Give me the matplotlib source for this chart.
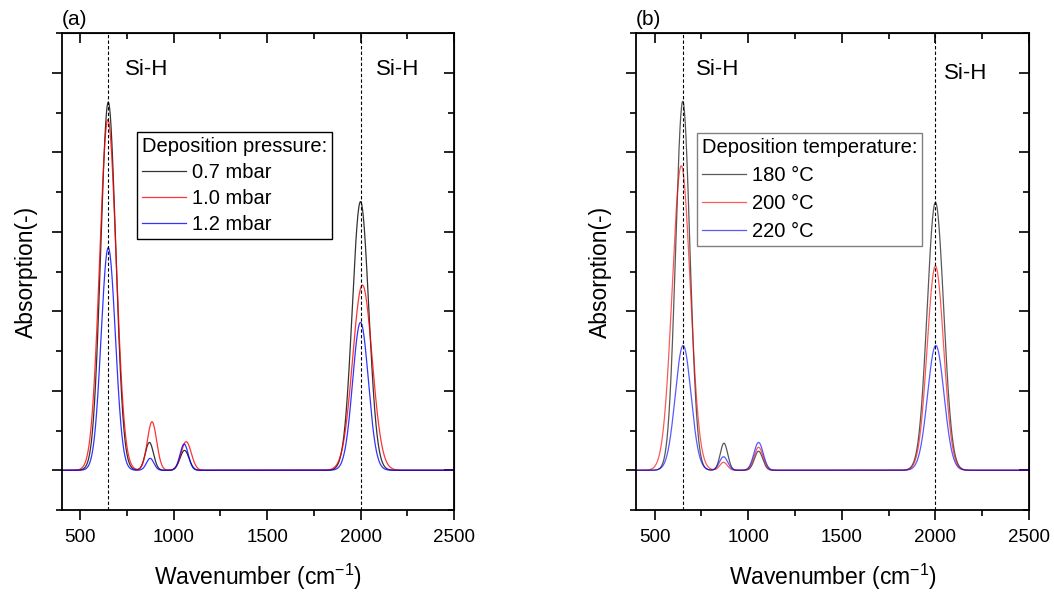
import numpy as np
import matplotlib
matplotlib.use("Agg")
import matplotlib.pyplot as plt
from matplotlib.ticker import MultipleLocator

plt.rcParams['font.family'] = ['Liberation Sans', 'DejaVu Sans']
plt.rcParams['mathtext.fontset'] = 'custom'
plt.rcParams['mathtext.rm'] = 'Liberation Sans'

# peak parameters: (centre, height, sigma) per band
pressure_labels = ['0.7 mbar', '1.0 mbar', '1.2 mbar']
pressure_peaks = [
    [(650, 4.63, 40), (870, 0.35, 22), (1058, 0.25, 24), (2000, 3.38, 44)],
    [(648, 4.41, 44), (884, 0.61, 25), (1067, 0.36, 27), (2010, 2.33, 52)],
    [(650, 2.80, 38), (874, 0.15, 20), (1056, 0.33, 22), (2000, 1.86, 42)],
]

temp_labels = ['180 \u00b0C', '200 \u00b0C', '220 \u00b0C']
temp_peaks = [
    [(650, 4.64, 38), (870, 0.34, 20), (1055, 0.24, 22), (2000, 3.37, 44)],
    [(642, 3.83, 48), (868, 0.10, 20), (1055, 0.29, 24), (2000, 2.57, 44)],
    [(652, 1.57, 42), (868, 0.17, 22), (1055, 0.35, 25), (2002, 1.57, 44)],
]

colors = ['black', 'red', 'blue']
markers_x = [650, 2000]
wn = np.linspace(400, 2500, 2101)


def spectrum(peaks):
    y = np.zeros_like(wn)
    for c, h, s in peaks:
        y += h * np.exp(-0.5 * ((wn - c) / s) ** 2)
    return y


def draw_panel(ax, peaks, labels, title, letter, legend_pos, leg_edge, si_pos,
               alpha, spacing):
    for pk, lab, col in zip(peaks, labels, colors):
        ax.plot(wn, spectrum(pk), color=col, lw=0.9, alpha=alpha, label=lab)
    for xm in markers_x:
        ax.axvline(xm, color='black', ls='--', lw=0.8, dashes=(3, 2))
    ax.set_xlim(400, 2500)
    ax.set_ylim(-0.5, 5.5)
    ax.xaxis.set_major_locator(MultipleLocator(500))
    ax.xaxis.set_minor_locator(MultipleLocator(250))
    ax.yaxis.set_major_locator(MultipleLocator(1))
    ax.yaxis.set_minor_locator(MultipleLocator(0.5))
    ax.set_yticklabels([])
    ax.tick_params(which='both', direction='out', width=1.2, labelsize=13.5)
    ax.tick_params(which='major', length=7, pad=7)
    ax.tick_params(which='minor', length=4)
    for sp in ax.spines.values():
        sp.set_linewidth(1.3)

    top = ax.secondary_xaxis('top')
    top.xaxis.set_major_locator(MultipleLocator(500))
    top.xaxis.set_minor_locator(MultipleLocator(250))
    top.tick_params(which='both', direction='in', width=1.2, labeltop=False)
    top.tick_params(which='major', length=7)
    top.tick_params(which='minor', length=4)
    right = ax.secondary_yaxis('right')
    right.yaxis.set_major_locator(MultipleLocator(1))
    right.yaxis.set_minor_locator(MultipleLocator(0.5))
    right.tick_params(which='both', direction='in', width=1.2, labelright=False)
    right.tick_params(which='major', length=7)
    right.tick_params(which='minor', length=4)

    ax.set_xlabel('Wavenumber (cm$^{-1}$)', fontsize=16.5, labelpad=11)
    ax.set_ylabel('Absorption(-)', fontsize=16.5, labelpad=3)
    ax.text(0.0, 1.008, letter, transform=ax.transAxes, fontsize=15,
            va='bottom', ha='left')
    for (xs, ys) in si_pos:
        ax.text(xs, ys, 'Si-H', fontsize=16, ha='left', va='center')

    leg = ax.legend(title=title, loc='upper left', bbox_to_anchor=legend_pos,
                    fontsize=14.5, title_fontsize=14.5, frameon=True,
                    fancybox=False, handlelength=2.2, handletextpad=0.3,
                    borderpad=0.25, labelspacing=spacing, borderaxespad=0)
    leg._legend_box.align = 'left'
    frame = leg.get_frame()
    frame.set_edgecolor(leg_edge)
    frame.set_linewidth(1.0)
    frame.set_alpha(1)


fig = plt.figure(figsize=(10.54, 5.94), dpi=100)
ax1 = fig.add_axes([0.0584, 0.1414, 0.3723, 0.803])
ax2 = fig.add_axes([0.6034, 0.1414, 0.3729, 0.803])

draw_panel(ax1, pressure_peaks, pressure_labels, 'Deposition pressure:', '(a)',
           (0.192, 0.792), 'black', [(740, 5.04), (2080, 5.04)], 0.8, 0.35)
draw_panel(ax2, temp_peaks, temp_labels, 'Deposition temperature:', '(b)',
           (0.155, 0.790), 'gray', [(720, 5.04), (2045, 4.99)], 0.65, 0.45)

fig.savefig('out.png', dpi=100)
